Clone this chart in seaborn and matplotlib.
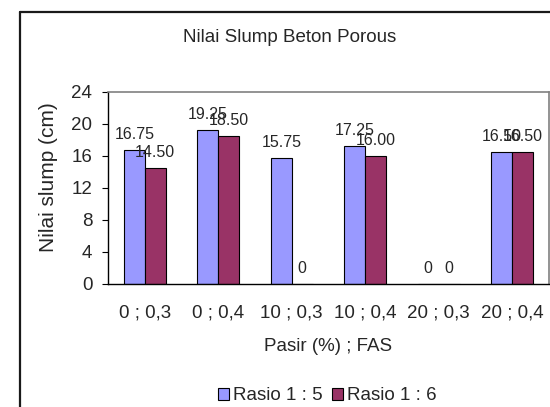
import pandas as pd
import matplotlib
matplotlib.use("Agg")
import matplotlib.pyplot as plt
from matplotlib.patches import Patch
from matplotlib.lines import Line2D
import seaborn as sns

# ------------------ Daten ------------------
kategori = ["0 ; 0,3", "0 ; 0,4", "10 ; 0,3", "10 ; 0,4", "20 ; 0,3", "20 ; 0,4"]
rasio_15 = [16.75, 19.25, 15.75, 17.25, 0, 16.50]
rasio_16 = [14.50, 18.50, 0, 16.00, 0, 16.50]
seri = ["Rasio 1 : 5", "Rasio 1 : 6"]
warna = ["#9999FF", "#993366"]

df = pd.DataFrame({
    "kategori": kategori * 2,
    "slump": rasio_15 + rasio_16,
    "rasio": [seri[0]] * len(kategori) + [seri[1]] * len(kategori),
})

sns.set_style("white")
plt.rcParams["font.family"] = ["Liberation Sans", "DejaVu Sans"]

fig = plt.figure(figsize=(5.5, 4.07), dpi=100)
ax = fig.add_axes([108 / 550, 1 - 284 / 407, 441 / 550, 192 / 407])

sns.barplot(data=df, x="kategori", y="slump", hue="rasio", palette=warna,
            width=0.57, saturation=1, edgecolor="black", linewidth=0.8,
            errorbar=None, legend=False, ax=ax)

# Datenbeschriftung über den Balken
for cont in ax.containers:
    werte = [b.get_height() for b in cont]
    ax.bar_label(cont, labels=["0" if v == 0 else f"{v:.2f}" for v in werte],
                 padding=6, fontsize=11.5)

ax.set_ylim(0, 24)
ax.set_yticks(range(0, 25, 4))
ax.set_xlim(-0.5, 5.5)
ax.tick_params(axis="y", direction="out", length=4.3, width=0.8, color="black",
               pad=7, labelsize=13.5, left=True)
ax.tick_params(axis="x", length=0, pad=15, labelsize=13.5)

for s in ["top", "right"]:
    ax.spines[s].set_color("#808080")
    ax.spines[s].set_linewidth(1.2)
for s in ["left", "bottom"]:
    ax.spines[s].set_color("black")
    ax.spines[s].set_linewidth(1.0)

ax.set_xlabel("Pasir (%) ; FAS", fontsize=13.5)
ax.xaxis.set_label_coords(0.5, -0.28)
ax.set_ylabel("Nilai slump (cm)", fontsize=15, va="center")
ax.yaxis.set_label_coords(-0.136, 0.557)

fig.text(290 / 550, 1 - 37 / 407, "Nilai Slump Beton Porous", ha="center",
         va="center", fontsize=13.5)

# Rahmen des Diagrammbereichs (nur links und oben sichtbar)
fig.add_artist(Line2D([20 / 550, 20 / 550], [0, 1 - 12 / 407], color="#1a1a1a",
                      linewidth=1.6, transform=fig.transFigure))
fig.add_artist(Line2D([20 / 550, 1], [1 - 12 / 407, 1 - 12 / 407], color="#1a1a1a",
                      linewidth=1.6, transform=fig.transFigure))

handles = [Patch(facecolor=c, edgecolor="black", linewidth=0.8) for c in warna]
fig.legend(handles, seri, loc="center", bbox_to_anchor=(327 / 550, 1 - 396 / 407),
           ncol=2, frameon=False, fontsize=13.5, handlelength=0.6, handleheight=0.6,
           handletextpad=0.2, columnspacing=0.5, borderaxespad=0)

fig.savefig("out.png", dpi=100)
